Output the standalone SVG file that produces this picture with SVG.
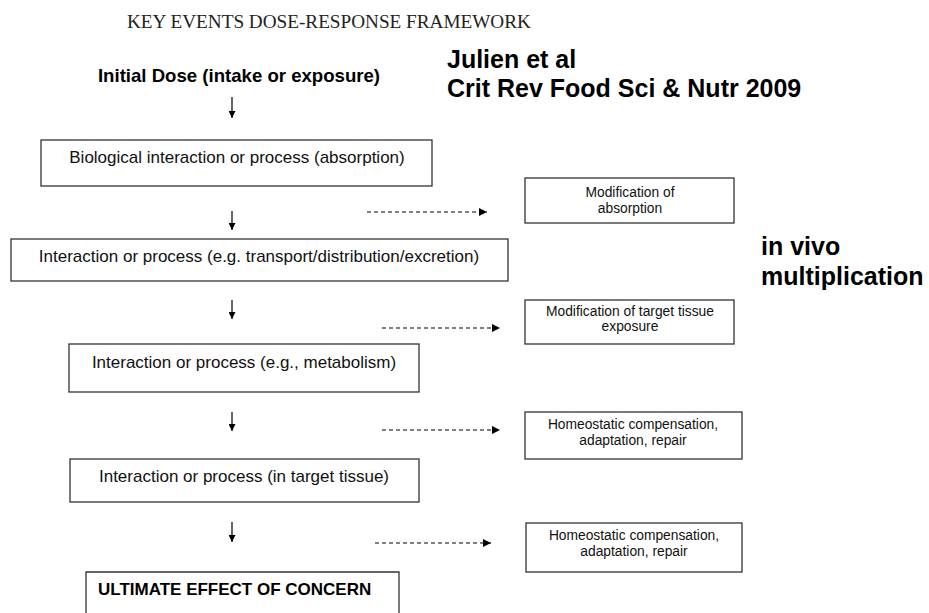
<svg xmlns="http://www.w3.org/2000/svg" width="929" height="613" viewBox="0 0 929 613">
<defs>
<marker id="ah" viewBox="0 0 10 10" refX="10" refY="5" markerWidth="7" markerHeight="7" markerUnits="userSpaceOnUse" orient="auto">
<path d="M0,0 L10,5 L0,10 Z" fill="#000"/>
</marker>
<marker id="ahd" viewBox="0 0 10 10" refX="10" refY="5" markerWidth="9" markerHeight="8" markerUnits="userSpaceOnUse" orient="auto">
<path d="M0,0 L10,5 L0,10 Z" fill="#000"/>
</marker>
</defs>
<style>
.box{fill:#fff;stroke:#333;stroke-width:1.3}
.t{font-family:"Liberation Sans",Arial,sans-serif;font-size:17px;fill:#111}
.s{font-family:"Liberation Sans",Arial,sans-serif;font-size:13.8px;fill:#111;text-anchor:middle}
.b{font-family:"Liberation Sans",Arial,sans-serif;font-weight:bold;fill:#000}
.solid{stroke:#000;stroke-width:1.2;fill:none;marker-end:url(#ah)}
.dash{stroke:#000;stroke-width:1.2;fill:none;stroke-dasharray:4 3;marker-end:url(#ahd)}
</style>
<rect width="929" height="613" fill="#fff"/>
<text x="127" y="28" font-family="'Liberation Serif','Times New Roman',serif" font-size="19.2" fill="#222">KEY EVENTS DOSE-RESPONSE FRAMEWORK</text>
<g id="initial-dose"><text class="b" x="239" y="82" font-size="18.6" text-anchor="middle">Initial Dose (intake or exposure)</text></g>
<g id="citation"><text class="b" x="447" y="68" font-size="25">Julien et al</text><text class="b" x="447" y="97" font-size="25">Crit Rev Food Sci &amp; Nutr 2009</text></g>
<g id="in-vivo"><text class="b" x="761" y="255" font-size="25">in vivo</text><text class="b" x="761" y="285" font-size="25">multiplication</text></g>
<g id="n1"><rect class="box" x="41" y="140" width="391" height="46"/><text class="t" x="237" y="163" text-anchor="middle">Biological interaction or process (absorption)</text></g>
<g id="n2"><rect class="box" x="525" y="178" width="209" height="45"/><text class="s" x="630" y="197">Modification of</text><text class="s" x="630" y="213">absorption</text></g>
<g id="n3"><rect class="box" x="11" y="239" width="497" height="42"/><text class="t" x="259" y="262" text-anchor="middle">Interaction or process (e.g. transport/distribution/excretion)</text></g>
<g id="n4"><rect class="box" x="525" y="300" width="209" height="44"/><text class="s" x="630" y="316">Modification of target tissue</text><text class="s" x="630" y="331">exposure</text></g>
<g id="n5"><rect class="box" x="69" y="344" width="350" height="48"/><text class="t" x="244" y="368" text-anchor="middle">Interaction or process (e.g., metabolism)</text></g>
<g id="n6"><rect class="box" x="525" y="412" width="217" height="47"/><text class="s" x="633" y="429">Homeostatic compensation,</text><text class="s" x="633" y="445">adaptation, repair</text></g>
<g id="n7"><rect class="box" x="70" y="459" width="349" height="43"/><text class="t" x="244" y="482" text-anchor="middle">Interaction or process (in target tissue)</text></g>
<g id="n8"><rect class="box" x="526" y="523" width="216" height="49"/><text class="s" x="634" y="540">Homeostatic compensation,</text><text class="s" x="634" y="556">adaptation, repair</text></g>
<g id="n9"><path class="box" d="M86,620 L86,572 L399,572 L399,620" fill="#fff"/><text class="b" x="98" y="595" font-size="17">ULTIMATE EFFECT OF CONCERN</text></g>
<g id="connectors">
<line class="solid" x1="232" y1="97" x2="232" y2="118"/>
<line class="solid" x1="232" y1="211" x2="232" y2="230"/>
<line class="solid" x1="232" y1="300" x2="232" y2="319"/>
<line class="solid" x1="232" y1="412" x2="232" y2="431"/>
<line class="solid" x1="232" y1="522" x2="232" y2="542"/>
<line class="dash" x1="367" y1="212" x2="487" y2="212"/>
<line class="dash" x1="382" y1="328" x2="500" y2="328"/>
<line class="dash" x1="382" y1="430" x2="500" y2="430"/>
<line class="dash" x1="375" y1="543" x2="491" y2="543"/>
</g>
</svg>
